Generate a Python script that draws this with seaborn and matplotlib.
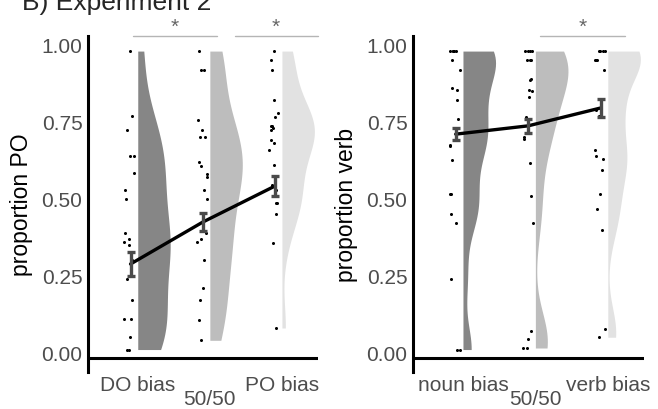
import numpy as np
import pandas as pd
import seaborn as sns
from matplotlib import pyplot as plt
from matplotlib import transforms

sns.set_style("white")
plt.rcParams["font.family"] = ["Liberation Sans", "DejaVu Sans"]

# per-participant proportions
do_bias = [0.98, 0.77, 0.725, 0.64, 0.64, 0.585, 0.53, 0.50, 0.39, 0.37, 0.36,
           0.35, 0.30, 0.24, 0.17, 0.11, 0.11, 0.05, 0.01, 0.01]
po_mid = [0.98, 0.92, 0.92, 0.755, 0.725, 0.70, 0.70, 0.62, 0.605, 0.58, 0.57,
          0.53, 0.50, 0.39, 0.37, 0.36, 0.30, 0.21, 0.17, 0.105, 0.04]
po_bias = [0.98, 0.95, 0.92, 0.82, 0.78, 0.765, 0.735, 0.735, 0.73, 0.725, 0.69,
           0.68, 0.66, 0.61, 0.545, 0.53, 0.485, 0.485, 0.45, 0.355, 0.08]

noun_bias = [0.98, 0.98, 0.98, 0.98, 0.98, 0.95, 0.92, 0.86, 0.855, 0.82, 0.76,
             0.73, 0.715, 0.675, 0.67, 0.625, 0.515, 0.515, 0.45, 0.42, 0.24, 0.01, 0.01]
verb_mid = [0.98, 0.98, 0.98, 0.98, 0.95, 0.95, 0.95, 0.89, 0.885, 0.855, 0.85,
            0.83, 0.765, 0.75, 0.70, 0.695, 0.615, 0.51, 0.42, 0.07, 0.045, 0.015, 0.015]
verb_bias = [0.98, 0.98, 0.98, 0.98, 0.95, 0.95, 0.95, 0.92, 0.81, 0.79, 0.77,
             0.66, 0.64, 0.63, 0.595, 0.515, 0.467, 0.40, 0.078, 0.05]

# condition means and standard errors
po_means = [0.288, 0.424, 0.541]
po_se = [0.040, 0.030, 0.032]
verb_means = [0.710, 0.737, 0.795]
verb_se = [0.020, 0.023, 0.030]

po_labels = ["DO bias", "50/50", "PO bias"]
verb_labels = ["noun bias", "50/50", "verb bias"]

greys = ["#868686", "#bdbdbd", "#e2e2e2"]
np.random.seed(3)


def raincloud(ax, groups, labels, means, se, ylabel, bw, width):
    df = pd.DataFrame({
        "cond": np.repeat(["c0", "c1", "c2"], [len(g) for g in groups]),
        "value": np.concatenate(groups),
    })
    sns.violinplot(data=df, x="cond", y="value", hue="cond", palette=greys,
                   cut=0, inner=None, linewidth=0, density_norm="area",
                   width=width, bw_adjust=bw, legend=False, ax=ax)
    # keep only the right half of each violin
    for coll in ax.collections:
        for path in coll.get_paths():
            v = path.vertices
            center = np.round(v[:, 0].mean())
            v[:, 0] = np.maximum(v[:, 0], center)
        coll.set_alpha(1)
    n_viol = len(ax.collections)

    sns.stripplot(data=df, x="cond", y="value", color="black", size=2.2,
                  jitter=0.08, linewidth=0, ax=ax)
    for coll in ax.collections[n_viol:]:
        coll.set_offsets(coll.get_offsets() - np.array([0.11, 0]))

    xm = np.arange(3) - 0.1
    ax.plot(xm, means, color="black", lw=2.4, zorder=5)
    ax.errorbar(xm, means, yerr=se, fmt="none", ecolor="#4a4a4a",
                elinewidth=2.4, capsize=3, capthick=2.4, zorder=6)

    ax.set_xlim(-0.69, 2.5)
    ax.set_ylim(-0.063, 1.029)
    ax.axhline(-0.018, color="black", lw=2.2, zorder=7)
    for s in ["top", "right", "bottom"]:
        ax.spines[s].set_visible(False)
    ax.spines["left"].set_linewidth(2.2)
    ax.spines["left"].set_color("black")

    ax.set_yticks([0, 0.25, 0.5, 0.75, 1.0])
    ax.set_yticklabels(["0.00", "0.25", "0.50", "0.75", "1.00"])
    ax.tick_params(axis="y", length=0, pad=4, labelsize=15, labelcolor="#4d4d4d")
    ax.set_xticks([0, 1, 2])
    ax.set_xticklabels([labels[0], "", labels[2]])
    ax.tick_params(axis="x", length=0, pad=2, labelsize=15, labelcolor="#4d4d4d")
    trans = transforms.blended_transform_factory(ax.transData, ax.transAxes)
    ax.text(1, -0.052, labels[1], transform=trans, ha="center", va="top",
            fontsize=15, color="#4d4d4d")

    ax.set_xlabel("")
    ax.set_ylabel(ylabel, fontsize=16.5, color="black")
    ax.yaxis.set_label_coords(-0.29, 0.5)
    ax.yaxis.label.set_va("center")


fig = plt.figure(figsize=(6.58, 4.10), dpi=100)
ax1 = fig.add_axes([88 / 658, 1 - 373 / 410, 230 / 658, 336 / 410])
ax2 = fig.add_axes([413 / 658, 1 - 373 / 410, 231 / 658, 336 / 410])

raincloud(ax1, [do_bias, po_mid, po_bias], po_labels, po_means, po_se,
          "proportion PO", 0.75, 0.9)
raincloud(ax2, [noun_bias, verb_mid, verb_bias], verb_labels, verb_means,
          verb_se, "proportion verb", 0.5, 0.9)

# significance bars
for ax, spans, stars in [(ax1, [(-0.07, 1.1), (1.35, 2.5)], [0.51, 1.92]),
                         (ax2, [(1.07, 2.24)], [1.65])]:
    for x0, x1 in spans:
        ax.plot([x0, x1], [1.029, 1.029], color="#b5b5b5", lw=1, clip_on=False)
    for xs in stars:
        ax.text(xs, 1.062, "*", ha="center", va="center", fontsize=15,
                color="#666666", clip_on=False)

fig.text(22 / 658, 1 - 10 / 410, "B) Experiment 2", fontsize=19,
         ha="left", va="baseline")

fig.savefig("out.png", dpi=100)
